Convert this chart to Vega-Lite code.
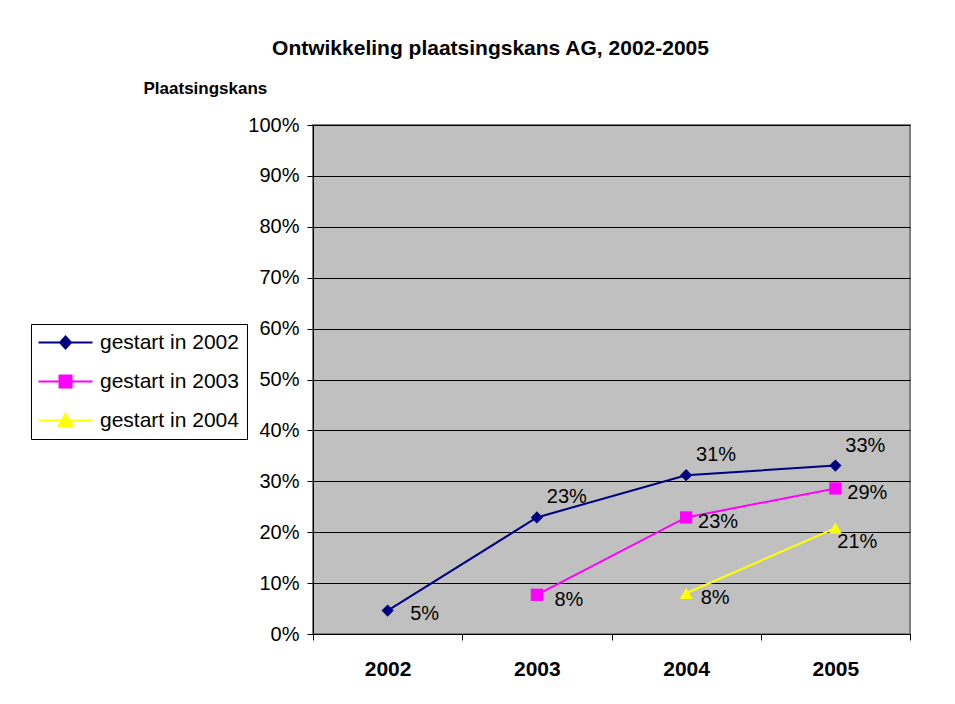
{
  "$schema": "https://vega.github.io/schema/vega-lite/v6.json",
  "width": 597,
  "height": 509,
  "autosize": "none",
  "padding": {"left": 313, "top": 125, "right": 45, "bottom": 70},
  "background": "white",
  "title": {
    "text": "Ontwikkeling plaatsingskans AG, 2002-2005",
    "font": "Liberation Sans",
    "fontSize": 21,
    "fontWeight": "bold",
    "color": "black",
    "anchor": "middle",
    "dx": -121,
    "dy": -16
  },
  "config": {
    "view": {"fill": "#c0c0c0", "stroke": "#808080", "strokeWidth": 2},
    "font": "Liberation Sans"
  },
  "data": {
    "values": [
      {"jaar": "2002", "reeks": "gestart in 2002", "kans": 0.046},
      {"jaar": "2003", "reeks": "gestart in 2002", "kans": 0.229},
      {"jaar": "2004", "reeks": "gestart in 2002", "kans": 0.312},
      {"jaar": "2005", "reeks": "gestart in 2002", "kans": 0.331},
      {"jaar": "2003", "reeks": "gestart in 2003", "kans": 0.077},
      {"jaar": "2004", "reeks": "gestart in 2003", "kans": 0.229},
      {"jaar": "2005", "reeks": "gestart in 2003", "kans": 0.286},
      {"jaar": "2004", "reeks": "gestart in 2004", "kans": 0.08},
      {"jaar": "2005", "reeks": "gestart in 2004", "kans": 0.208}
    ]
  },
  "encoding": {
    "x": {
      "field": "jaar",
      "type": "ordinal",
      "scale": {"type": "band", "domain": ["2002", "2003", "2004", "2005"], "paddingInner": 0, "paddingOuter": 0},
      "axis": {
        "title": null,
        "labelAngle": 0,
        "labelFont": "Liberation Sans",
        "labelFontSize": 21,
        "labelFontWeight": "bold",
        "labelColor": "black",
        "labelPadding": 18,
        "tickBand": "extent",
        "tickSize": 6,
        "tickColor": "black",
        "domainColor": "black",
        "grid": false
      }
    },
    "y": {
      "field": "kans",
      "type": "quantitative",
      "scale": {"domain": [0, 1], "nice": false},
      "axis": {
        "values": [0, 0.1, 0.2, 0.3, 0.4, 0.5, 0.6, 0.7, 0.8, 0.9, 1],
        "format": ".0%",
        "labelFont": "Liberation Sans",
        "labelFontSize": 20,
        "labelColor": "black",
        "labelPadding": 8,
        "tickSize": 6,
        "tickColor": "black",
        "domainColor": "black",
        "grid": true,
        "gridColor": "black",
        "gridWidth": 1,
        "title": "Plaatsingskans",
        "titleAngle": 0,
        "titleAlign": "left",
        "titleBaseline": "alphabetic",
        "titleX": -170,
        "titleY": -32,
        "titleFont": "Liberation Sans",
        "titleFontSize": 17,
        "titleFontWeight": "bold",
        "titleColor": "black"
      }
    }
  },
  "layer": [
    {
      "mark": {"type": "line", "strokeWidth": 2},
      "encoding": {
        "color": {
          "field": "reeks",
          "type": "nominal",
          "scale": {"domain": ["gestart in 2002", "gestart in 2003", "gestart in 2004"], "range": ["#000080", "#ff00ff", "#ffff00"]}
        }
      }
    },
    {
      "transform": [{"filter": "datum.reeks == 'gestart in 2002'"}],
      "mark": {"type": "point", "shape": "diamond", "filled": true, "size": 150, "opacity": 1},
      "encoding": {
        "color": {"field": "reeks", "type": "nominal"}
      }
    },
    {
      "transform": [{"filter": "datum.reeks == 'gestart in 2003'"}],
      "mark": {"type": "point", "shape": "square", "filled": true, "size": 150, "opacity": 1},
      "encoding": {
        "color": {"field": "reeks", "type": "nominal"}
      }
    },
    {
      "transform": [{"filter": "datum.reeks == 'gestart in 2004'"}],
      "mark": {"type": "point", "shape": "triangle-up", "filled": true, "size": 170, "opacity": 1},
      "encoding": {
        "color": {"field": "reeks", "type": "nominal"}
      }
    },
    {
      "transform": [{"filter": "datum.reeks == 'gestart in 2002' && datum.jaar != '2002'"}],
      "mark": {"type": "text", "font": "Liberation Sans", "fontSize": 20, "color": "black", "align": "center", "baseline": "middle", "dx": 30, "dy": -20},
      "encoding": {"text": {"field": "kans", "type": "quantitative", "format": ".0%"}}
    },
    {
      "transform": [{"filter": "datum.reeks == 'gestart in 2002' && datum.jaar == '2002'"}],
      "mark": {"type": "text", "font": "Liberation Sans", "fontSize": 20, "color": "black", "align": "center", "baseline": "middle", "dx": 37, "dy": 3},
      "encoding": {"text": {"field": "kans", "type": "quantitative", "format": ".0%"}}
    },
    {
      "transform": [{"filter": "datum.reeks == 'gestart in 2003'"}],
      "mark": {"type": "text", "font": "Liberation Sans", "fontSize": 20, "color": "black", "align": "center", "baseline": "middle", "dx": 32, "dy": 5},
      "encoding": {"text": {"field": "kans", "type": "quantitative", "format": ".0%"}}
    },
    {
      "transform": [{"filter": "datum.reeks == 'gestart in 2004' && datum.jaar == '2004'"}],
      "mark": {"type": "text", "font": "Liberation Sans", "fontSize": 20, "color": "black", "align": "center", "baseline": "middle", "dx": 29, "dy": 5},
      "encoding": {"text": {"field": "kans", "type": "quantitative", "format": ".0%"}}
    },
    {
      "transform": [{"filter": "datum.reeks == 'gestart in 2004' && datum.jaar == '2005'"}],
      "mark": {"type": "text", "font": "Liberation Sans", "fontSize": 20, "color": "black", "align": "center", "baseline": "middle", "dx": 22, "dy": 14},
      "encoding": {"text": {"field": "kans", "type": "quantitative", "format": ".0%"}}
    },
    {
      "transform": [{"filter": "false"}],
      "mark": {"type": "point", "filled": true, "size": 100, "opacity": 1},
      "encoding": {
        "color": {
          "field": "reeks",
          "type": "nominal",
          "legend": {
            "orient": "none",
            "legendX": -282,
            "legendY": 199,
            "title": null,
            "padding": 8,
            "fillColor": "white",
            "strokeColor": "black",
            "symbolOffset": 16,
            "labelOffset": 24,
            "labelFont": "Liberation Sans",
            "labelFontSize": 21,
            "labelColor": "black",
            "rowPadding": 17,
            "symbolSize": 100,
            "symbolStrokeWidth": 2,
            "encode": {"symbols": {"update": {"stroke": {"scale": "color", "field": "value"}, "strokeWidth": {"value": 2}, "opacity": {"value": 1}}}}
          }
        },
        "shape": {
          "field": "reeks",
          "type": "nominal",
          "scale": {
            "domain": ["gestart in 2002", "gestart in 2003", "gestart in 2004"],
            "range": [
              "M-5.4,0H5.4M0,-1.2L1.1,0L0,1.2L-1.1,0Z",
              "M-5.4,0H5.4M-1.2,-1.2H1.2V1.2H-1.2Z",
              "M-5.4,0H5.4M0,-1.3L1.4,1.1H-1.4Z"
            ]
          },
          "legend": {
            "orient": "none",
            "legendX": -282,
            "legendY": 199,
            "title": null,
            "padding": 8,
            "fillColor": "white",
            "strokeColor": "black",
            "symbolOffset": 16,
            "labelOffset": 24,
            "labelFont": "Liberation Sans",
            "labelFontSize": 21,
            "labelColor": "black",
            "rowPadding": 17,
            "symbolSize": 100,
            "symbolStrokeWidth": 2,
            "encode": {"symbols": {"update": {"stroke": {"scale": "color", "field": "value"}, "strokeWidth": {"value": 2}, "opacity": {"value": 1}}}}
          }
        }
      }
    }
  ]
}
